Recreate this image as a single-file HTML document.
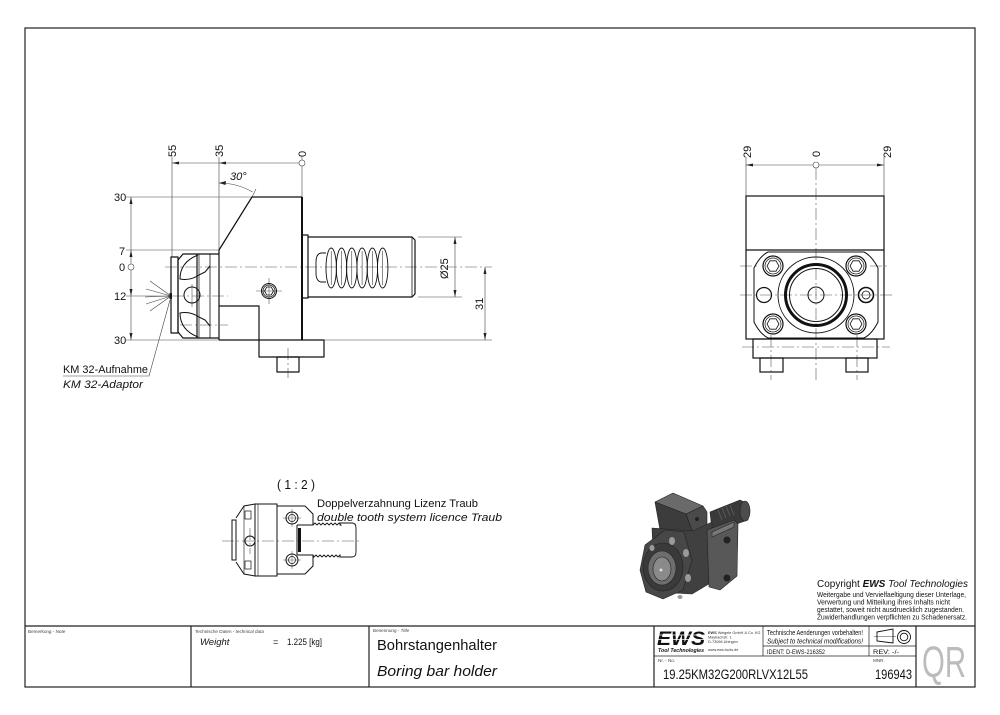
<!DOCTYPE html>
<html><head><meta charset="utf-8">
<style>
html,body{margin:0;padding:0;background:#fff;}
svg{display:block;}
text{font-family:"Liberation Sans",sans-serif;fill:#111;}
.it{font-style:italic;}
</style></head><body>
<svg width="1000" height="715" viewBox="0 0 1000 715" xmlns="http://www.w3.org/2000/svg">
<rect x="0" y="0" width="1000" height="715" fill="#fff"/>
<!-- Frame -->
<rect x="25" y="28" width="950" height="659" fill="none" stroke="#222" stroke-width="1.2"/>

<!-- ============ LEFT VIEW ============ -->
<g stroke="#444" stroke-width="0.6" fill="none">
  <line x1="172" y1="157" x2="172" y2="257"/>
  <line x1="219" y1="157" x2="219" y2="250"/>
  <line x1="302" y1="157" x2="302" y2="160"/>
  <line x1="302" y1="166" x2="302" y2="197"/>
  <line x1="172" y1="163" x2="299" y2="163"/>
  <line x1="131" y1="197" x2="131" y2="264"/>
  <line x1="131" y1="270" x2="131" y2="340"/>
  <line x1="126" y1="197" x2="252" y2="197"/>
  <line x1="126" y1="250" x2="219" y2="250"/>
  <line x1="126" y1="296" x2="171" y2="296"/>
  <line x1="126" y1="340" x2="219" y2="340"/>
  <path d="M 219,183 A 67 67 0 0 1 252.5,192"/>
  <line x1="252" y1="197" x2="256" y2="189"/>
  <line x1="171" y1="296" x2="150" y2="281"/>
  <line x1="171" y1="296" x2="146" y2="289"/>
  <line x1="171" y1="296" x2="145" y2="297"/>
  <line x1="171" y1="296" x2="146" y2="304"/>
  <line x1="171" y1="296" x2="150" y2="311"/>
  <path d="M 63,376 L 149,376 L 170,300"/>
  <line x1="418" y1="237" x2="462" y2="237"/>
  <line x1="418" y1="297" x2="462" y2="297"/>
  <line x1="455" y1="237" x2="455" y2="297"/>
  <line x1="324" y1="340" x2="492" y2="340"/>
  <line x1="485" y1="267" x2="485" y2="340"/>
</g>
<circle cx="302" cy="163" r="3" fill="none" stroke="#444" stroke-width="0.6"/>
<circle cx="131" cy="267" r="3" fill="none" stroke="#444" stroke-width="0.6"/>
<g fill="#222">
  <polygon points="172,163 179,161.5 179,164.5"/>
  <polygon points="219,163 226,161.5 226,164.5"/>
  <polygon points="131,197 129.5,204 132.5,204"/>
  <polygon points="131,250 129.5,257 132.5,257"/>
  <polygon points="131,296 129.5,289 132.5,289"/>
  <polygon points="131,340 129.5,333 132.5,333"/>
  <polygon points="219,183 226,181 225.5,185"/>
  <polygon points="455,237 453.5,244 456.5,244"/>
  <polygon points="455,297 453.5,290 456.5,290"/>
  <polygon points="485,267 483.5,274 486.5,274"/>
  <polygon points="485,340 483.5,333 486.5,333"/>
  <rect x="169.5" y="293" width="2.5" height="6"/>
</g>

<g stroke="#555" stroke-width="0.6" fill="none" stroke-dasharray="12 3 2 3">
  <line x1="165" y1="267" x2="492" y2="267"/>
  <line x1="172" y1="296" x2="228" y2="296"/>
  <line x1="180" y1="325" x2="228" y2="325"/>
  <line x1="288" y1="348" x2="288" y2="378"/>
</g>
<g stroke="#555" stroke-width="0.6" fill="none">
  <line x1="192" y1="284" x2="192" y2="307"/>
  <line x1="256" y1="291" x2="282" y2="291"/>
  <line x1="269" y1="278" x2="269" y2="304"/>
</g>

<g stroke="#111" stroke-width="1.2" fill="none" stroke-linejoin="round">
  <path d="M 219,250 L 252,197 L 302,197"/>
  <line x1="302" y1="197" x2="302" y2="340" stroke-width="2"/>
  <line x1="219" y1="250" x2="219" y2="340"/>
  <line x1="219" y1="340" x2="302" y2="340"/>
  <path d="M 219,306 L 259,306 L 259,340"/>
  <path d="M 259,340 L 259,357 L 324,357 L 324,340 L 302,340"/>
  <rect x="277" y="357" width="22" height="15"/>
  <rect x="302" y="235" width="6" height="63"/>
  <path d="M 308,237 L 412,237 L 415,240 L 415,294 L 412,297 L 308,297"/>
  <line x1="412" y1="237" x2="412" y2="297" stroke-width="0.8"/>
  <rect x="171" y="257" width="7" height="76"/>
  <path d="M 178,260 L 183,254 L 219,254"/>
  <path d="M 178,332 L 183,338 L 219,338"/>
  <line x1="178" y1="260" x2="178" y2="332"/>
  <line x1="197" y1="254" x2="197" y2="338"/>
  <line x1="199" y1="254" x2="199" y2="338" stroke-width="0.7"/>
  <line x1="210" y1="254" x2="210" y2="338" stroke-width="0.8"/>
  <path d="M 198,255 Q 180,262 180,279 Q 190,281 199,275 L 205,272 L 210,266" stroke-width="1"/>
  <path d="M 198,337 Q 180,330 180,313 Q 190,311 199,317 L 205,320 L 210,326" stroke-width="1"/>
  <circle cx="192" cy="295" r="8" stroke-width="1"/>
  <circle cx="269" cy="291" r="7.5" stroke-width="1"/>
  <circle cx="269" cy="291" r="6" stroke-width="0.8"/>
  <polygon points="273.5,291 271.2,295 266.8,295 264.5,291 266.8,287 271.2,287" stroke-width="0.8"/>
</g>
<g stroke="#111" stroke-width="0.9" fill="none">
  <path d="M 326,253 L 321,253 Q 316,254 316,262 L 316,273 Q 316,281 321,282 L 326,282"/>
  <ellipse cx="331.2" cy="268" rx="5.2" ry="20"/>
  <ellipse cx="341.5" cy="268" rx="5.2" ry="20"/>
  <ellipse cx="351.8" cy="268" rx="5.2" ry="20"/>
  <ellipse cx="362.1" cy="268" rx="5.2" ry="20"/>
  <ellipse cx="372.4" cy="268" rx="5.2" ry="20"/>
  <ellipse cx="382.7" cy="268" rx="5.2" ry="20"/>
  <line x1="331.2" y1="251" x2="331.2" y2="285" stroke-width="0.5"/>
  <line x1="341.5" y1="251" x2="341.5" y2="285" stroke-width="0.5"/>
  <line x1="351.8" y1="251" x2="351.8" y2="285" stroke-width="0.5"/>
  <line x1="362.1" y1="251" x2="362.1" y2="285" stroke-width="0.5"/>
  <line x1="372.4" y1="251" x2="372.4" y2="285" stroke-width="0.5"/>
  <line x1="382.7" y1="251" x2="382.7" y2="285" stroke-width="0.5"/>
</g>

<g font-size="11">
  <text transform="translate(176,157) rotate(-90)">55</text>
  <text transform="translate(223,157) rotate(-90)">35</text>
  <text transform="translate(306,157) rotate(-90)">0</text>
  <text x="114" y="201">30</text>
  <text x="119" y="255">7</text>
  <text x="119" y="271">0</text>
  <text x="114" y="300">12</text>
  <text x="114" y="344">30</text>
  <text x="230" y="180" class="it">30°</text>
  <text transform="translate(448,279) rotate(-90)">Ø25</text>
  <text transform="translate(483,310) rotate(-90)">31</text>
  <text x="63" y="373" textLength="85" lengthAdjust="spacingAndGlyphs">KM 32-Aufnahme</text>
  <text x="63" y="388" class="it" textLength="80" lengthAdjust="spacingAndGlyphs">KM 32-Adaptor</text>
</g>

<!-- ============ RIGHT VIEW ============ -->
<g stroke="#444" stroke-width="0.6" fill="none">
  <line x1="746" y1="157" x2="746" y2="196"/>
  <line x1="884" y1="157" x2="884" y2="196"/>
  <line x1="746" y1="165" x2="813" y2="165"/>
  <line x1="819" y1="165" x2="884" y2="165"/>
</g>
<circle cx="816" cy="165" r="3" fill="none" stroke="#444" stroke-width="0.6"/>
<g fill="#222">
  <polygon points="746,165 753,163.5 753,166.5"/>
  <polygon points="884,165 877,163.5 877,166.5"/>
</g>
<g stroke="#555" stroke-width="0.6" fill="none" stroke-dasharray="12 3 2 3">
  <line x1="816" y1="168" x2="816" y2="380"/>
  <line x1="740" y1="295" x2="892" y2="295"/>
  <line x1="742" y1="347" x2="890" y2="347"/>
  <line x1="771" y1="335" x2="771" y2="380"/>
  <line x1="857" y1="335" x2="857" y2="380"/>
  <line x1="740" y1="266" x2="760" y2="266"/>
  <line x1="870" y1="266" x2="890" y2="266"/>
</g>
<g stroke="#111" stroke-width="1.2" fill="none">
  <rect x="746" y="196" width="138" height="143"/>
  <line x1="746" y1="250" x2="884" y2="250"/>
  <path d="M 768,252 L 864,252 Q 872,256 878,268 L 878,322 Q 872,334 864,338 L 768,338 Q 760,334 754,322 L 754,268 Q 760,256 768,252 Z" stroke-width="1"/>
  <circle cx="816" cy="295" r="38" stroke-width="0.9"/>
  <circle cx="816" cy="295" r="30.5" stroke-width="3"/>
  <circle cx="816" cy="295" r="26.5" stroke-width="1"/>
  <circle cx="816" cy="295" r="8" stroke-width="1"/>
  <circle cx="764" cy="295" r="7.5"/>
  <circle cx="866" cy="295" r="7.5" stroke-width="1.6"/>
  <circle cx="866" cy="295" r="4" stroke-width="0.8"/>
  <rect x="753" y="339" width="124" height="19"/>
  <rect x="760" y="358" width="23" height="14"/>
  <rect x="846" y="358" width="22" height="14"/>
</g>
<g stroke="#111" fill="none">
  <g transform="translate(773,266)">
    <circle r="10" stroke-width="1.2"/><circle r="8" stroke-width="0.7"/>
    <polygon points="6,0 3,5.2 -3,5.2 -6,0 -3,-5.2 3,-5.2" stroke-width="0.8"/>
  </g>
  <g transform="translate(856,266)">
    <circle r="10" stroke-width="1.2"/><circle r="8" stroke-width="0.7"/>
    <polygon points="6,0 3,5.2 -3,5.2 -6,0 -3,-5.2 3,-5.2" stroke-width="0.8"/>
  </g>
  <g transform="translate(773,324)">
    <circle r="10" stroke-width="1.2"/><circle r="8" stroke-width="0.7"/>
    <polygon points="6,0 3,5.2 -3,5.2 -6,0 -3,-5.2 3,-5.2" stroke-width="0.8"/>
  </g>
  <g transform="translate(856,324)">
    <circle r="10" stroke-width="1.2"/><circle r="8" stroke-width="0.7"/>
    <polygon points="6,0 3,5.2 -3,5.2 -6,0 -3,-5.2 3,-5.2" stroke-width="0.8"/>
  </g>
</g>
<g font-size="11">
  <text transform="translate(751,158) rotate(-90)">29</text>
  <text transform="translate(820,157) rotate(-90)">0</text>
  <text transform="translate(891,158) rotate(-90)">29</text>
</g>

<!-- ============ 1:2 VIEW ============ -->
<g stroke="#555" stroke-width="0.6" fill="none" stroke-dasharray="12 3 2 3">
  <line x1="222" y1="541" x2="362" y2="541"/>
  <line x1="250" y1="528" x2="250" y2="554"/>
</g>
<g stroke="#555" stroke-width="0.5" fill="none">
  <line x1="283" y1="518" x2="301" y2="518"/>
  <line x1="292" y1="509" x2="292" y2="527"/>
  <line x1="283" y1="560" x2="301" y2="560"/>
  <line x1="292" y1="551" x2="292" y2="569"/>
</g>
<g stroke="#111" stroke-width="1" fill="none">
  <rect x="232" y="520" width="4" height="40"/>
  <path d="M 236,518 L 244,506 L 255,504 L 255,576 L 244,574 L 236,562"/>
  <line x1="244" y1="506" x2="244" y2="574" stroke-width="0.6"/>
  <rect x="245" y="511" width="6" height="8" stroke-width="0.7"/>
  <rect x="245" y="561" width="6" height="8" stroke-width="0.7"/>
  <circle cx="250" cy="541" r="5"/>
  <rect x="255" y="504" width="22" height="72"/>
  <line x1="258" y1="504" x2="258" y2="576" stroke-width="0.6"/>
  <path d="M 277,506 L 305,506 L 313,514 L 313,525"/>
  <path d="M 313,555 L 313,566 L 305,574 L 277,574"/>
  <path d="M 297,525 L 297,555"/>
  <path d="M 297,525 L 313,525 l 2,-2 l 2,2 l 2,-2 l 2,2 l 2,-2 l 2,2 l 2,-2 l 2,2 l 2,-2 l 2,2 l 2,-2 l 2,2 l 2,-2 l 2,2 L 340,525 L 340,523 L 352,523 Q 356,523 356,528 L 356,552 Q 356,557 352,557 L 340,557 L 340,555 l -2,2 l -2,-2 l -2,2 l -2,-2 l -2,2 l -2,-2 l -2,2 l -2,-2 l -2,2 l -2,-2 l -2,2 l -2,-2 l -2,2 l -1,-2 L 297,555" stroke-width="0.9"/>
  <circle cx="292" cy="518" r="6"/><circle cx="292" cy="518" r="3.5" stroke-width="0.7"/>
  <circle cx="292" cy="560" r="6"/><circle cx="292" cy="560" r="3.5" stroke-width="0.7"/>
</g>
<rect x="298" y="528" width="3" height="24" fill="#111"/>
<text x="277" y="489" font-size="12.5" textLength="38" lengthAdjust="spacingAndGlyphs">( 1 : 2 )</text>
<text x="317" y="507" font-size="11" textLength="161" lengthAdjust="spacingAndGlyphs">Doppelverzahnung Lizenz Traub</text>
<text x="317" y="521" font-size="11" class="it" textLength="185" lengthAdjust="spacingAndGlyphs">double tooth system licence Traub</text>

<!-- ============ 3D VIEW ============ -->
<g stroke="#222" stroke-width="0.6" stroke-linejoin="round">
  <polygon points="710,512 740,500 748,504 748,520 725,528 712,530" fill="#3a3a3a"/>
  <ellipse cx="745" cy="511" rx="5" ry="10" fill="#4c4c4c"/>
  <polygon points="655,502 673,493 703,506 686,514" fill="#6a6a6a"/>
  <polygon points="655,502 686,514 693,533 660,530" fill="#3c3c3c"/>
  <polygon points="686,514 703,506 707,512 707,530 693,533" fill="#4a4a4a"/>
  <polygon points="652,528 693,531 712,522 712,582 692,594 655,592" fill="#404040"/>
  <polygon points="707,530 734,520 738,524 737,576 720,590 709,587" fill="#585858"/>
  <polygon points="712,532 734,522 734,527 712,537" fill="#777"/>
  <polygon points="645,545 665,530 684,532 692,560 683,590 663,599 646,592 640,570" fill="#474747"/>
  <ellipse cx="663" cy="567" rx="20" ry="24" fill="#3a3a3a"/>
  <ellipse cx="662" cy="568" rx="14" ry="17" fill="#6e6e6e"/>
  <ellipse cx="662" cy="569" rx="9" ry="12" fill="#8a8a8a"/>
</g>
<g fill="#9a9a9a">
  <circle cx="661" cy="570" r="1.5" fill="#ddd"/>
  <ellipse cx="672" cy="541" rx="3" ry="4"/>
  <ellipse cx="686" cy="553" rx="3" ry="4"/>
  <ellipse cx="688" cy="578" rx="3" ry="4"/>
  <ellipse cx="680" cy="597" rx="2.5" ry="2"/>
  <ellipse cx="652" cy="548" rx="2.5" ry="3"/>
  <circle cx="727" cy="540" r="3.5" fill="#222"/>
  <circle cx="727" cy="578" r="3.5" fill="#222"/>
  <circle cx="697" cy="519" r="2" fill="#222"/>
</g>
<g stroke="#666" stroke-width="0.7">
  <line x1="718" y1="510" x2="722" y2="520"/>
  <line x1="722" y1="508" x2="726" y2="518"/>
  <line x1="726" y1="506" x2="730" y2="516"/>
  <line x1="730" y1="505" x2="734" y2="515"/>
</g>

<!-- ============ COPYRIGHT ============ -->
<text x="817" y="587" font-size="10.5" textLength="151" lengthAdjust="spacingAndGlyphs">Copyright <tspan font-weight="bold" font-style="italic">EWS</tspan><tspan font-style="italic"> Tool Technologies</tspan></text>
<g font-size="7.3">
  <text x="817" y="597" textLength="149" lengthAdjust="spacingAndGlyphs">Weitergabe und Vervielfaeltigung dieser Unterlage,</text>
  <text x="817" y="604.5" textLength="133" lengthAdjust="spacingAndGlyphs">Verwertung und Mitteilung ihres Inhalts nicht</text>
  <text x="817" y="612" textLength="147" lengthAdjust="spacingAndGlyphs">gestattet, soweit nicht ausdruecklich zugestanden.</text>
  <text x="817" y="619.5" textLength="150" lengthAdjust="spacingAndGlyphs">Zuwiderhandlungen verpflichten zu Schadenersatz.</text>
</g>

<!-- ============ TITLE BLOCK ============ -->
<g stroke="#222" stroke-width="1.2" fill="none">
  <line x1="25" y1="626" x2="975" y2="626"/>
  <line x1="191" y1="626" x2="191" y2="687"/>
  <line x1="369" y1="626" x2="369" y2="687"/>
  <line x1="654" y1="626" x2="654" y2="687"/>
  <line x1="916" y1="626" x2="916" y2="687"/>
</g>
<g stroke="#222" stroke-width="0.7" fill="none">
  <line x1="763" y1="626" x2="763" y2="656"/>
  <line x1="869" y1="626" x2="869" y2="656"/>
  <line x1="654" y1="656" x2="916" y2="656"/>
  <line x1="763" y1="646" x2="916" y2="646"/>
</g>
<g font-size="4.6">
  <text x="28" y="633" style="fill:#444">Bemerkung - <tspan class="it">Note</tspan></text>
  <text x="195" y="633" style="fill:#444">Technische Daten - <tspan class="it">technical data</tspan></text>
  <text x="373" y="632" style="fill:#444">Benennung - <tspan class="it">Title</tspan></text>
  <text x="658" y="662" style="fill:#444">Nr. - No.</text>
  <text x="873" y="662" style="fill:#444">MNR.</text>
</g>
<text x="200" y="645" font-size="9.5" class="it">Weight</text>
<text x="273" y="645" font-size="9">=</text>
<text x="287" y="645" font-size="9" textLength="35" lengthAdjust="spacingAndGlyphs">1.225 [kg]</text>
<text x="377" y="650" font-size="14.5" textLength="120" lengthAdjust="spacingAndGlyphs">Bohrstangenhalter</text>
<text x="377" y="676" font-size="14.5" class="it" textLength="120" lengthAdjust="spacingAndGlyphs">Boring bar holder</text>

<!-- EWS logo -->
<text x="657" y="645" font-size="19" font-weight="bold" font-style="italic" textLength="48" lengthAdjust="spacingAndGlyphs">EWS</text>
<g stroke="#fff" stroke-width="0.8">
  <line x1="655" y1="635" x2="708" y2="635"/>
  <line x1="655" y1="639.5" x2="708" y2="639.5"/>
</g>
<text x="658" y="652" font-size="5.3" font-weight="bold" font-style="italic" textLength="46" lengthAdjust="spacingAndGlyphs">Tool Technologies</text>
<g font-size="3.8">
  <text x="708" y="634" style="fill:#333"><tspan font-weight="bold">EWS</tspan> Weigele GmbH &amp; Co. KG</text>
  <text x="708" y="638.5" style="fill:#333">Maybachstr. 1</text>
  <text x="708" y="643" style="fill:#333">D-73066 Uhingen</text>
  <text x="708" y="651" style="fill:#333">www.ews-tools.de</text>
</g>
<text x="767" y="635" font-size="7.2" textLength="96" lengthAdjust="spacingAndGlyphs">Technische Aenderungen vorbehalten!</text>
<text x="767" y="643.5" font-size="7.2" class="it" textLength="96" lengthAdjust="spacingAndGlyphs">Subject to technical modifications!</text>
<text x="767" y="654" font-size="6.8" textLength="58" lengthAdjust="spacingAndGlyphs">IDENT:   D-EWS-216352</text>
<text x="873" y="654" font-size="6.8" textLength="26" lengthAdjust="spacingAndGlyphs">REV:  -/-</text>
<g stroke="#111" stroke-width="0.9" fill="none">
  <polygon points="877,632 893,629 893,643 877,641"/>
  <line x1="874" y1="636.5" x2="896" y2="636.5" stroke-width="0.4"/>
  <circle cx="904" cy="637" r="6.5"/>
  <circle cx="904" cy="637" r="3.8"/>
</g>
<text x="663" y="679" font-size="13.5" textLength="145" lengthAdjust="spacingAndGlyphs">19.25KM32G200RLVX12L55</text>
<text x="875" y="679" font-size="13.5" textLength="37" lengthAdjust="spacingAndGlyphs">196943</text>
<text x="922" y="677" font-size="44" style="fill:#bcbcbc" textLength="44" lengthAdjust="spacingAndGlyphs">QR</text>
</svg>
</body></html>
